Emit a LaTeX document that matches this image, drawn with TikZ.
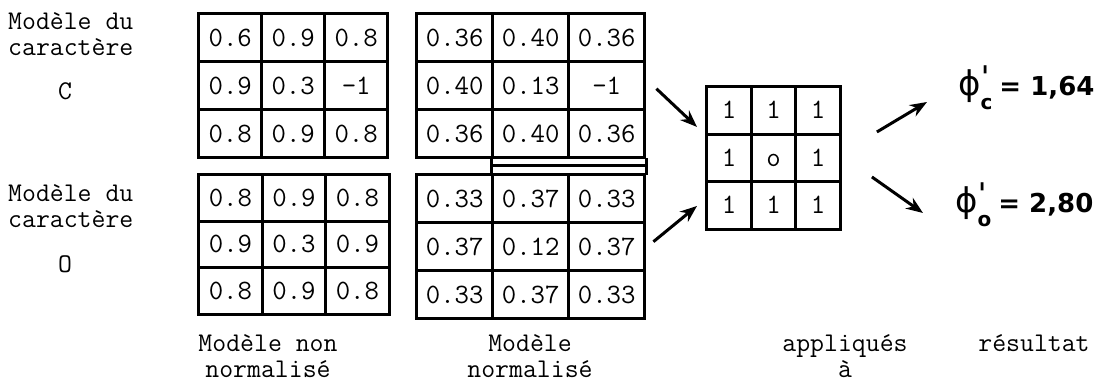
\documentclass[tikz,border=0pt]{standalone}
\usepackage{fontspec}
\newfontfamily\handfont{DejaVu Sans}
\usetikzlibrary{arrows.meta,matrix,calc}
\begin{document}
\begin{tikzpicture}[x=1pt,y=-1pt,
  txt/.style={font=\fontsize{27}{26}\selectfont\ttfamily, inner sep=0pt},
  gridlines/.style={draw, line width=3pt, line cap=rect},
  cell/.style={draw, line width=3pt, inner sep=0pt, text height=17pt, text depth=0pt, font=\fontsize{28}{28}\selectfont\ttfamily},
  gridmat/.style={matrix of nodes, inner sep=0pt, column sep=-3pt, row sep=-3pt, anchor=north west},
  arr/.style={line width=3pt, -{Stealth[length=17pt,width=13pt]}},
  res/.style={font=\handfont\bfseries\fontsize{26}{26}\selectfont, inner sep=0pt, anchor=west}
]
\useasboundingbox (0,0) rectangle (1102,390);

% left labels
\node[txt, anchor=west, align=left] (lc) at (8,34) {Modèle du\\caractère};
\node[txt] (cC) at (65,91) {C};
\node[txt, anchor=west, align=left] (lo) at (8,206) {Modèle du\\caractère};
\node[txt] (cO) at (65,264) {O};

% unnormalised models
\matrix (g1) [gridmat, nodes={cell, minimum width=63pt, minimum height=48pt}] at (197,12)
{0.6 & 0.9 & 0.8\\ 0.9 & 0.3 & -1\\ 0.8 & 0.9 & 0.8\\};
\matrix (g2) [gridmat, nodes={cell, minimum width=63.5pt, minimum height=46.5pt}] at (197,173)
{0.8 & 0.9 & 0.8\\ 0.9 & 0.3 & 0.9\\ 0.8 & 0.9 & 0.8\\};

% normalised models
\matrix (g3) [gridmat, nodes={cell, minimum width=76pt, minimum height=48pt}] at (415,12)
{0.36 & 0.40 & 0.36\\ 0.40 & 0.13 & -1\\ 0.36 & 0.40 & 0.36\\};
\matrix (g4) [gridmat, nodes={cell, minimum width=76pt, minimum height=48pt}] at (415,173)
{0.33 & 0.37 & 0.33\\ 0.37 & 0.12 & 0.37\\ 0.33 & 0.37 & 0.33\\};

% strip between the normalised models
\coordinate (s1) at (g3-3-2.south west);
\coordinate (s2) at (g3-3-3.south east);
\coordinate (s3) at (g4-1-2.north west);
\coordinate (s4) at (g4-1-3.north east);
\draw[gridlines] (s1) -- (s3);
\draw[gridlines] (s2) -- (s4);
\draw[gridlines] ($(s1)!0.45!(s3)$) -- ($(s2)!0.45!(s4)$);

% filter
\matrix (f) [gridmat, nodes={cell, minimum width=44.5pt, minimum height=47.5pt}] at (705,85)
{1 & 1 & 1\\ 1 & o & 1\\ 1 & 1 & 1\\};

% results
\node[res] (rc) at (958,88) {{\mdseries\fontsize{34}{34}\selectfont ϕ}\rlap{\raisebox{7pt}{\fontsize{30}{30}\selectfont ˈ}}\raisebox{-14pt}{\fontsize{20}{20}\selectfont c}\kern7pt={} 1,64};
\node[res] (ro) at (955,205) {{\mdseries\fontsize{34}{34}\selectfont ϕ}\rlap{\raisebox{7pt}{\fontsize{30}{30}\selectfont ˈ}}\raisebox{-14pt}{\fontsize{20}{20}\selectfont o}\kern7pt={} 2,80};

% arrows
\draw[arr] ([shift={(10,3)}]g3.east) -- ([shift={(-8,-31)}]f.west);
\draw[arr] ([shift={(7,-5)}]g4.east) -- ([shift={(-8,48)}]f.west);
\draw[arr] ([shift={(35,-26)}]f.east) -- ([shift={(-31,14)}]rc.west);
\draw[arr] ([shift={(30,19)}]f.east) -- ([shift={(-32,8)}]ro.west);

% bottom labels
\node[txt, align=center] (b1) at (268,356) {Modèle non\\normalisé};
\node[txt, align=center] (b2) at (530,356) {Modèle\\normalisé};
\node[txt, align=center] (b3) at (845,356) {appliqués\\à};
\node[txt] (b4) at (1034,343) {résultat};
\end{tikzpicture}
\end{document}
